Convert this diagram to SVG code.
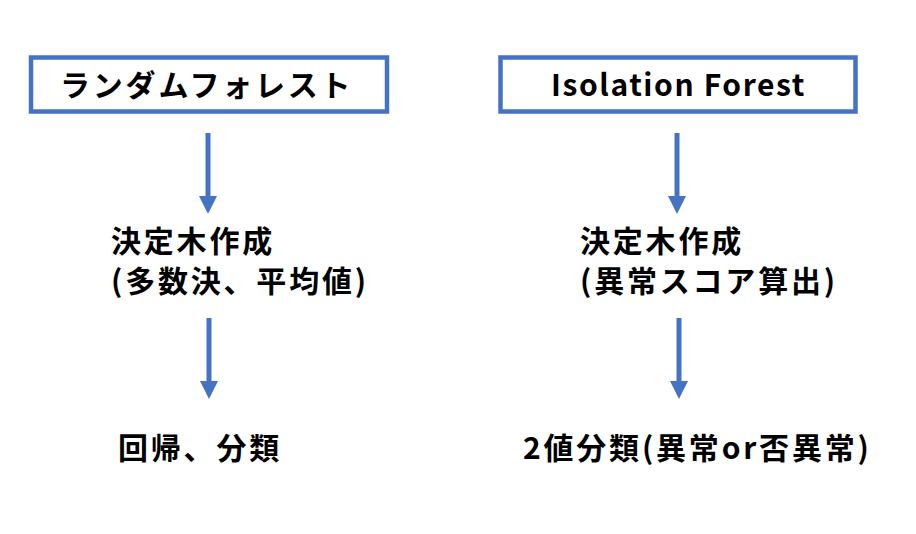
<svg xmlns="http://www.w3.org/2000/svg" width="916" height="534" viewBox="0 0 916 534">
<style>
.box{fill:#ffffff;stroke:#4472C4;stroke-width:4.5}
.t{font-family:"Noto Sans CJK JP","Noto Sans",sans-serif;font-weight:bold;font-size:30px;letter-spacing:2.8px;fill:#000}
.en{letter-spacing:1.6px}
.shaft{stroke:#4472C4;stroke-width:5;fill:none}
.head{fill:#4472C4}
</style>
<rect width="916" height="534" fill="#ffffff"/>
<g id="rf-title">
<rect class="box" x="31" y="57.5" width="356" height="54"/>
<text class="t" x="60" y="96">ランダムフォレスト</text>
</g>
<g id="if-title">
<rect class="box" x="500.5" y="57.5" width="355" height="54"/>
<text class="t en" x="551" y="96">Isolation Forest</text>
</g>
<g id="rf-tree">
<text class="t" x="111" y="252">決定木作成</text>
<text class="t" x="111" y="292">(多数決、平均値)</text>
</g>
<g id="if-tree">
<text class="t" x="580" y="252">決定木作成</text>
<text class="t" x="580" y="292">(異常スコア算出)</text>
</g>
<g id="rf-result">
<text class="t" x="118" y="459">回帰、分類</text>
</g>
<g id="if-result">
<text class="t" x="523" y="459">2値分類(異常or否異常)</text>
</g>
<g id="connectors">
<line class="shaft" x1="208" y1="133" x2="208" y2="198"/>
<polygon class="head" points="199,196 217,196 208,214"/>
<line class="shaft" x1="677" y1="133" x2="677" y2="198"/>
<polygon class="head" points="668,196 686,196 677,214"/>
<line class="shaft" x1="209" y1="318" x2="209" y2="383"/>
<polygon class="head" points="200,381 218,381 209,399"/>
<line class="shaft" x1="679" y1="318" x2="679" y2="383"/>
<polygon class="head" points="670,381 688,381 679,399"/>
</g>
</svg>
